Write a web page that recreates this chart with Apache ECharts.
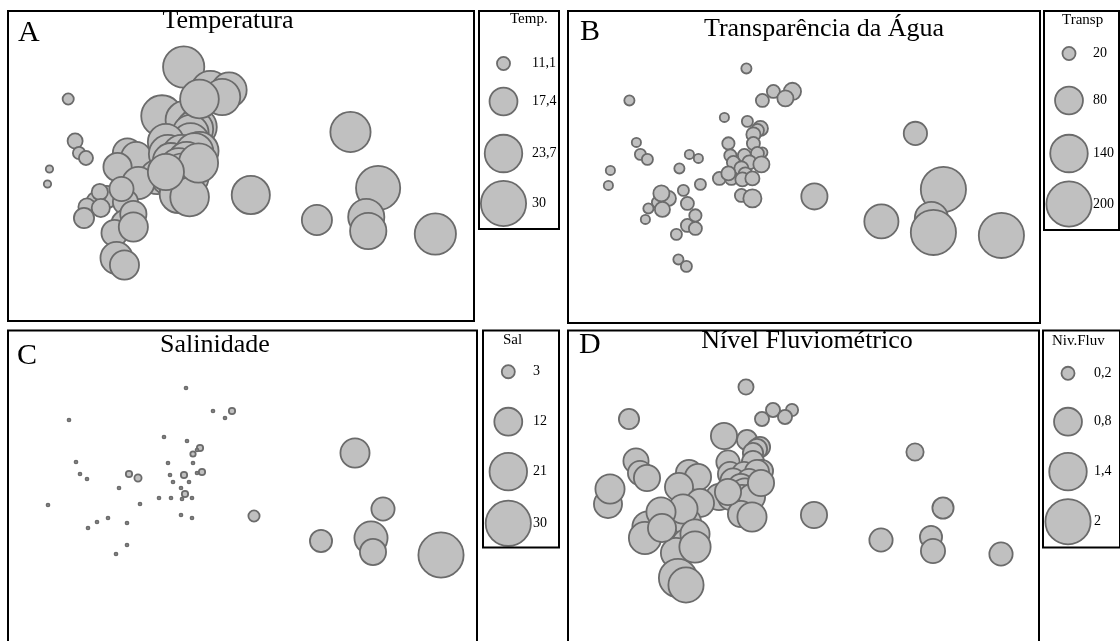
<!DOCTYPE html>
<html>
<head>
<meta charset="utf-8">
<script src="https://cdn.jsdelivr.net/npm/echarts@6/dist/echarts.min.js"></script>
<style>
  html, body { margin: 0; padding: 0; background: #ffffff; }
  #chart { width: 1120px; height: 641px; }
</style>
</head>
<body>
<div id="chart"></div>
<script>
// Ordination scores of the sampling sites (axis 1, axis 2), same for all four panels
const eixo1 = [178, 205, 224, 217, 61, 156, 179, 192, 189, 185,
               185, 68, 160, 72, 79, 121, 130, 162, 176, 194,
               189, 165, 181, 111, 173, 177, 151, 163, 174, 184,
               40, 132, 173, 184, 100, 89, 80, 119, 119, 108,
               246, 347, 375, 313, 363, 365, 433, 42, 194, 77,
               115, 127, 110, 118, 93, 94, 193, 160, 127];
const eixo2 = [59, 82, 82, 89, 91, 108, 112, 119, 121, 125,
               134, 133, 134, 145, 150, 145, 149, 146, 146, 143,
               144, 153, 153, 159, 159, 165, 169, 169, 170, 169,
               176, 175, 186, 189, 189, 193, 199, 194, 216, 225,
               187, 124, 180, 212, 209, 223, 226, 161, 91, 210,
               181, 206, 250, 257, 184, 200, 155, 164, 219];

// Environmental variables per site
const temperatura = [26.6, 24.3, 22.0, 22.7, 10.6, 26.8, 24.2, 24.5, 23.5, 22.7,
                     24.0, 11.7, 22.7, 10.9, 11.4, 18.1, 18.7, 24.1, 24.4, 24.2,
                     23.9, 22.6, 24.2, 17.6, 24.0, 25.0, 21.3, 22.8, 24.3, 24.1,
                     9.8, 20.0, 24.2, 24.6, 14.5, 12.8, 12.4, 15.9, 17.6, 16.5,
                     24.2, 25.8, 29.1, 18.7, 22.7, 22.8, 26.6, 9.8, 24.6, 13.6,
                     15.4, 16.5, 20.0, 18.1, 12.1, 12.8, 25.0, 22.7, 18.1];
const transparencia = [13, 20, 33, 29, 13, 11, 15, 26, 20, 23,
                       20, 11, 18, 15, 15, 11, 11, 18, 20, 13,
                       20, 20, 23, 13, 23, 23, 20, 20, 23, 23,
                       11, 15, 20, 36, 26, 15, 13, 20, 20, 15,
                       71, 57, 200, 117, 111, 200, 200, 11, 20, 11,
                       15, 18, 13, 15, 29, 26, 29, 23, 20];
const salinidade = [0.3, 0.3, 0.9, 0.3, 0.3, 0.3, 0.3, 0.9, 0.3, 0.7,
                    0.3, 0.3, 0.3, 0.3, 0.3, 0.9, 1.1, 0.3, 0.9, 0.9,
                    0.3, 0.3, 0.3, 0.3, 0.3, 0.9, 0.3, 0.3, 0.3, 0.3,
                    0.3, 0.3, 0.3, 0.3, 0.3, 0.3, 0.3, 0.3, 0.3, 0.3,
                    2.3, 13.0, 8.5, 7.8, 16.6, 10.6, 30.0, null, null, null,
                    null, null, null, null, null, null, null, null, null];
const nivelFluv = [0.26, 0.23, 0.18, 0.23, 0.44, 0.71, 0.44, 0.44, 0.44, 0.44,
                   0.52, 0.66, 0.57, 0.61, 0.71, 0.71, 0.71, 0.61, 0.61, 0.52,
                   0.61, 0.66, 0.61, 0.81, 0.71, 0.87, 0.71, 0.71, 0.71, 0.71,
                   0.81, 0.81, 0.71, 0.87, 0.81, 0.81, 0.99, 0.81, 0.93, 0.93,
                   0.71, 0.33, 0.48, 0.57, 0.52, 0.61, 0.57, 0.87, 0.23, 1.05,
                   0.87, 0.87, 1.45, 1.24, 0.87, 0.81, 0.71, 0.71, 0.99];

// Legend keys
const legTemp = [11.1, 17.4, 23.7, 30];
const legTransp = [20, 80, 140, 200];
const legSal = [3, 12, 21, 30];
const legNiv = [0.2, 0.8, 1.4, 2];

const FILL = '#c0c0c0';
const EDGE = '#6b6b6b';
const LW = 1.8;
const MAXD = 47;          // outer diameter of the largest symbol
const SERIF = '"Liberation Serif", "Times New Roman", serif';

// area of the symbol proportional to the value within [lo, hi]
function outerDiam(v, lo, hi) {
  const f = Math.max(0, (v - lo) / (hi - lo));
  return MAXD * Math.sqrt(f);
}
function symSize(v, lo, hi) {
  return Math.max(0.5, outerDiam(v, lo, hi) - LW);
}

const panels = [
  { values: temperatura, lo: 9, hi: 30, title: 'Temperatura', letter: 'A',
    grid: { left: 8, top: 8, width: 454, height: 300 },
    box: [8, 11, 466, 310], letterPos: [18, 33], titlePos: [228, 21],
    legend: { keys: legTemp, name: 'Temp.', box: [479, 11, 80, 218],
      namePos: [510, 19], cx: 503.5, ys: [63.5, 101.5, 153.5, 203.5], lx: 532 } },
  { values: transparencia, lo: 0, hi: 200, title: 'Transparência da Água', letter: 'B',
    grid: { left: 568.4, top: 9.4, width: 460, height: 300 },
    box: [568, 11, 472, 312], letterPos: [580, 32], titlePos: [824, 29],
    legend: { keys: legTransp, name: 'Transp', box: [1044, 11, 75, 219],
      namePos: [1062, 20], cx: 1069, ys: [53.5, 100.5, 153.5, 204], lx: 1093 } },
  { values: salinidade, lo: 0, hi: 30, title: 'Salinidade', letter: 'C',
    grid: { left: 8, top: 329, width: 460, height: 300 },
    box: [8, 330.5, 469, 320], letterPos: [17, 356], titlePos: [215, 345],
    legend: { keys: legSal, name: 'Sal', box: [483, 330.5, 76, 217],
      namePos: [503, 340.5], cx: 508.3, ys: [371.7, 421.7, 471.7, 523.3], lx: 533 } },
  { values: nivelFluv, lo: 0, hi: 2, title: 'Nível Fluviométrico', letter: 'D',
    grid: { left: 568, top: 328, width: 460, height: 300 },
    box: [568, 330.5, 471, 320], letterPos: [579, 345], titlePos: [807, 341],
    legend: { keys: legNiv, name: 'Niv.Fluv', box: [1043, 330.5, 77, 217],
      namePos: [1052, 341], cx: 1068, ys: [373.3, 421.7, 471.7, 521.7], lx: 1094 } }
];

const grids = [], xAxes = [], yAxes = [], series = [], graphics = [];

panels.forEach((p, i) => {
  grids.push(Object.assign({ show: false }, p.grid));
  xAxes.push({ type: 'value', gridIndex: i, min: 0, max: 460, show: false });
  yAxes.push({ type: 'value', gridIndex: i, min: 0, max: 300, inverse: true, show: false });

  const data = [];
  eixo1.forEach((x, k) => {
    const v = p.values[k];
    if (v !== null && v !== undefined) data.push([x, eixo2[k], v]);
  });
  series.push({
    type: 'scatter', xAxisIndex: i, yAxisIndex: i, clip: false,
    data: data,
    symbol: 'circle',
    symbolSize: (d) => symSize(d[2], p.lo, p.hi),
    itemStyle: { color: FILL, borderColor: EDGE, borderWidth: LW, opacity: 1 },
    emphasis: { disabled: true },
    silent: true
  });

  // panel frame
  graphics.push({ type: 'rect', shape: { x: p.box[0], y: p.box[1], width: p.box[2], height: p.box[3] },
    style: { fill: 'none', stroke: '#000', lineWidth: 2 }, z: 10 });
  // panel letter and title
  graphics.push({ type: 'text', x: p.letterPos[0], y: p.letterPos[1],
    style: { text: p.letter, font: '30px ' + SERIF, fill: '#000', textAlign: 'left', textVerticalAlign: 'middle' }, z: 11 });
  graphics.push({ type: 'text', x: p.titlePos[0], y: p.titlePos[1],
    style: { text: p.title, font: '26px ' + SERIF, fill: '#000', textAlign: 'center', textVerticalAlign: 'middle' }, z: 11 });

  // size legend
  const L = p.legend;
  graphics.push({ type: 'rect', shape: { x: L.box[0], y: L.box[1], width: L.box[2], height: L.box[3] },
    style: { fill: 'none', stroke: '#000', lineWidth: 2 }, z: 10 });
  graphics.push({ type: 'text', x: L.namePos[0], y: L.namePos[1],
    style: { text: L.name, font: '15px ' + SERIF, fill: '#000', textAlign: 'left', textVerticalAlign: 'middle' }, z: 11 });
  L.keys.forEach((v, j) => {
    graphics.push({ type: 'circle', shape: { cx: L.cx, cy: L.ys[j], r: symSize(v, p.lo, p.hi) / 2 },
      style: { fill: FILL, stroke: EDGE, lineWidth: LW }, z: 9 });
    graphics.push({ type: 'text', x: L.lx, y: L.ys[j],
      style: { text: String(v).replace('.', ','), font: '14px ' + SERIF, fill: '#000',
        textAlign: 'left', textVerticalAlign: 'middle' }, z: 11 });
  });
});

const chart = echarts.init(document.getElementById('chart'), null, { renderer: 'canvas' });
chart.setOption({
  backgroundColor: '#ffffff',
  animation: false,
  grid: grids,
  xAxis: xAxes,
  yAxis: yAxes,
  series: series,
  graphic: graphics
});
</script>
</body>
</html>
